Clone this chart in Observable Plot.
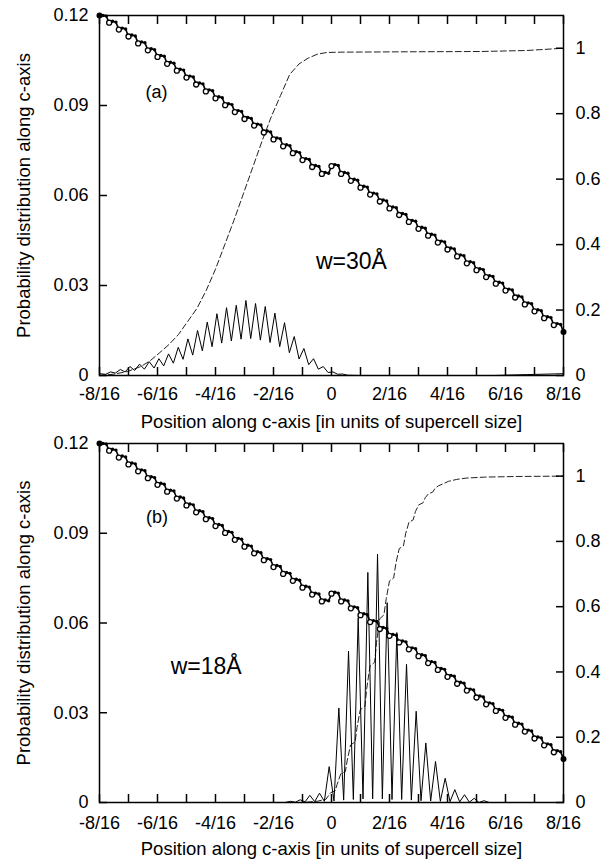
<!DOCTYPE html>
<html><head><meta charset="utf-8">
<script src="https://cdn.jsdelivr.net/npm/d3@7"></script>
<script src="https://cdn.jsdelivr.net/npm/@observablehq/plot@0.6"></script>
<style>
body { margin:0; background:#fff; }
#chart { width:610px; }
#chart svg { display:block; }
</style></head><body><div id="chart"></div>
<script>
// ---- axes ----
const xTicks = [-0.5, -0.4375, -0.375, -0.3125, -0.25, -0.1875, -0.125, -0.0625, 0, 0.0625, 0.125, 0.1875, 0.25, 0.3125, 0.375, 0.4375, 0.5];
const xTickLabels = ["-8/16", "", "-6/16", "", "-4/16", "", "-2/16", "", "0", "", "2/16", "", "4/16", "", "6/16", "", "8/16"];
const leftTicks = [0, 0.03, 0.06, 0.09, 0.12];
const leftTickLabels = ["0", "0.03", "0.06", "0.09", "0.12"];
const rightTicks = [0, 0.2, 0.4, 0.6, 0.8, 1];
const rightTickLabels = ["0", "0.2", "0.4", "0.6", "0.8", "1"];
const rightAxisMax = 1.1;
const xLabel = "Position along c-axis [in units of supercell size]";
const yLabel = "Probability distribution along c-axis";

// ---- layer potential (same in both panels) ----
const layerX = [-0.5, -0.4792, -0.4583, -0.4375, -0.4167, -0.3958, -0.375, -0.3542, -0.3333, -0.3125, -0.2917, -0.2708, -0.25, -0.2292, -0.2083, -0.1875, -0.1667, -0.1458, -0.125, -0.1042, -0.0833, -0.0625, -0.0417, -0.0208, 0, 0.0208, 0.0417, 0.0625, 0.0833, 0.1042, 0.125, 0.1458, 0.1667, 0.1875, 0.2083, 0.2292, 0.25, 0.2708, 0.2917, 0.3125, 0.3333, 0.3542, 0.375, 0.3958, 0.4167, 0.4375, 0.4583, 0.4792, 0.5];
const layerPotential = [0.1200, 0.1176, 0.1153, 0.1130, 0.1107, 0.1084, 0.1062, 0.1039, 0.1016, 0.0993, 0.0970, 0.0947, 0.0924, 0.0901, 0.0878, 0.0855, 0.0833, 0.0810, 0.0787, 0.0764, 0.0741, 0.0718, 0.0695, 0.0672, 0.0698, 0.0672, 0.0649, 0.0626, 0.0603, 0.0580, 0.0557, 0.0535, 0.0512, 0.0489, 0.0466, 0.0443, 0.0420, 0.0397, 0.0374, 0.0351, 0.0328, 0.0306, 0.0283, 0.0260, 0.0237, 0.0214, 0.0191, 0.0168, 0.0145];
const siteOffsets = [0.0073, 0.0146];
const sitePotentialA = [0.1200, 0.1181, 0.1158, 0.1135, 0.1112, 0.1089, 0.1067, 0.1044, 0.1021, 0.0998, 0.0975, 0.0952, 0.0929, 0.0906, 0.0883, 0.0860, 0.0838, 0.0815, 0.0792, 0.0769, 0.0746, 0.0723, 0.0700, 0.0677, 0.0703, 0.0677, 0.0654, 0.0631, 0.0608, 0.0585, 0.0562, 0.0540, 0.0517, 0.0494, 0.0471, 0.0448, 0.0425, 0.0402, 0.0379, 0.0356, 0.0333, 0.0311, 0.0288, 0.0265, 0.0242, 0.0219, 0.0196, 0.0173];
const sitePotentialB = [0.1198, 0.1178, 0.1155, 0.1132, 0.1109, 0.1086, 0.1064, 0.1041, 0.1018, 0.0995, 0.0972, 0.0949, 0.0926, 0.0903, 0.0880, 0.0857, 0.0835, 0.0812, 0.0789, 0.0766, 0.0743, 0.0720, 0.0697, 0.0674, 0.0700, 0.0674, 0.0651, 0.0628, 0.0605, 0.0582, 0.0559, 0.0537, 0.0514, 0.0491, 0.0468, 0.0445, 0.0422, 0.0399, 0.0376, 0.0353, 0.0330, 0.0308, 0.0285, 0.0262, 0.0239, 0.0216, 0.0193, 0.0170];

// ---- panel (a): w = 30 A ----
const densityA = [[-0.5, 0.0006], [-0.4866, 0.0004], [-0.4762, 0.0012], [-0.4658, 0.0008], [-0.4553, 0.0020], [-0.4449, 0.0012], [-0.4345, 0.0030], [-0.4241, 0.0017], [-0.4137, 0.0038], [-0.4033, 0.0021], [-0.3928, 0.0046], [-0.3824, 0.0025], [-0.3720, 0.0056], [-0.3616, 0.0032], [-0.3512, 0.0072], [-0.3408, 0.0041], [-0.3303, 0.0094], [-0.3199, 0.0054], [-0.3095, 0.0122], [-0.2991, 0.0068], [-0.2887, 0.0150], [-0.2783, 0.0082], [-0.2678, 0.0178], [-0.2574, 0.0096], [-0.2470, 0.0206], [-0.2366, 0.0108], [-0.2262, 0.0226], [-0.2158, 0.0115], [-0.2053, 0.0234], [-0.1949, 0.0121], [-0.1845, 0.0250], [-0.1741, 0.0123], [-0.1637, 0.0240], [-0.1533, 0.0118], [-0.1428, 0.0230], [-0.1324, 0.0110], [-0.1220, 0.0208], [-0.1116, 0.0096], [-0.1012, 0.0176], [-0.0908, 0.0076], [-0.0803, 0.0130], [-0.0699, 0.0055], [-0.0595, 0.0090], [-0.0491, 0.0036], [-0.0387, 0.0056], [-0.0283, 0.0021], [-0.0178, 0.0030], [-0.0074, 0.0010], [0.0030, 0.0012], [0.0134, 0.0004], [0.0238, 0.0005], [0.0342, 0.0001], [0.06, 0.0], [0.35, 0.0], [0.42, 0.0003], [0.5, 0.0006]];
const cumulativeA = [[-0.5, 0], [-0.47, 0.004], [-0.44, 0.012], [-0.41, 0.028], [-0.39, 0.046], [-0.37, 0.07], [-0.35, 0.095], [-0.33, 0.125], [-0.31, 0.165], [-0.29, 0.205], [-0.27, 0.26], [-0.25, 0.325], [-0.23, 0.40], [-0.21, 0.475], [-0.19, 0.555], [-0.17, 0.635], [-0.15, 0.715], [-0.13, 0.79], [-0.11, 0.855], [-0.09, 0.92], [-0.07, 0.952], [-0.05, 0.97], [-0.03, 0.982], [-0.01, 0.987], [0.02, 0.988], [0.15, 0.989], [0.32, 0.99], [0.42, 0.993], [0.5, 1.0]];

// ---- panel (b): w = 18 A ----
const densityB = [[-0.5, 0], [-0.10, 0], [-0.0883, 0.0004], [-0.0779, 0.0001], [-0.0675, 0.0009], [-0.0571, 0.0002], [-0.0467, 0.0024], [-0.0363, 0.0003], [-0.0258, 0.0031], [-0.0154, 0.0004], [-0.0050, 0.0120], [0.0054, 0.0005], [0.0158, 0.0316], [0.0262, 0.0008], [0.0367, 0.0506], [0.0471, 0.0010], [0.0575, 0.0618], [0.0679, 0.0012], [0.0783, 0.0769], [0.0887, 0.0012], [0.0992, 0.0830], [0.1096, 0.0012], [0.1200, 0.0668], [0.1304, 0.0010], [0.1408, 0.0568], [0.1512, 0.0010], [0.1617, 0.0462], [0.1721, 0.0008], [0.1825, 0.0305], [0.1929, 0.0006], [0.2033, 0.0199], [0.2137, 0.0005], [0.2242, 0.0137], [0.2346, 0.0004], [0.2450, 0.0081], [0.2554, 0.0003], [0.2658, 0.0043], [0.2762, 0.0002], [0.2867, 0.0026], [0.2971, 0.0001], [0.3075, 0.0014], [0.3179, 0.0], [0.3283, 0.0006], [0.34, 0], [0.5, 0]];
const cumulativeB = [[-0.5, 0], [-0.06, 0], [-0.03, 0.004], [-0.012, 0.010], [-0.002, 0.030], [0.008, 0.036], [0.012, 0.055], [0.020, 0.088], [0.030, 0.095], [0.034, 0.130], [0.041, 0.176], [0.051, 0.186], [0.055, 0.230], [0.062, 0.284], [0.072, 0.295], [0.076, 0.350], [0.083, 0.418], [0.093, 0.430], [0.097, 0.490], [0.104, 0.563], [0.113, 0.575], [0.118, 0.625], [0.125, 0.679], [0.134, 0.688], [0.139, 0.735], [0.146, 0.778], [0.155, 0.786], [0.160, 0.825], [0.167, 0.859], [0.176, 0.866], [0.181, 0.892], [0.188, 0.912], [0.197, 0.918], [0.202, 0.934], [0.209, 0.946], [0.218, 0.951], [0.223, 0.962], [0.230, 0.970], [0.243, 0.978], [0.252, 0.984], [0.27, 0.990], [0.29, 0.994], [0.33, 0.997], [0.40, 0.999], [0.5, 1.0]];

// ---- annotations (data coordinates) ----
const annotationsA = [{x: -0.377, y: 0.0945, text: "(a)", size: 18}, {x: 0.043, y: 0.038, text: "w=30Å", size: 23}];
const annotationsB = [{x: -0.376, y: 0.0955, text: "(b)", size: 18}, {x: -0.27, y: 0.0455, text: "w=18Å", size: 23}];

// build the zig-zag potential path from layers and the two intra-layer sites
const potentialPath = [];
const sitePoints = [];
for (let g = 0; g < layerX.length; g++) {
  potentialPath.push([layerX[g], layerPotential[g]]);
  if (g < sitePotentialA.length) {
    const a = [layerX[g] + siteOffsets[0], sitePotentialA[g]];
    const b = [layerX[g] + siteOffsets[1], sitePotentialB[g]];
    potentialPath.push(a, b);
    sitePoints.push(a, b);
  }
}
const openLayers = layerX.slice(1, -1).map((x, i) => [x, layerPotential[i + 1]]);
const endLayers = [[layerX[0], layerPotential[0]], [layerX[layerX.length - 1], layerPotential[layerPotential.length - 1]]];

const k = 0.12 / rightAxisMax;
const rightScaled = rightTicks.map(d => d * k);
const FONT = "'Liberation Sans', Arial, Helvetica, sans-serif";

function panel({height, marginTop, marginBottom, density, cumulative, annotations, xPad}) {
  return Plot.plot({
    width: 610, height, marginLeft: 99, marginRight: 47, marginTop, marginBottom,
    x: {domain: [-0.5, 0.5], label: null},
    y: {domain: [0, 0.12], label: null},
    style: {fontFamily: FONT, fontSize: "18px", background: "white", color: "black", overflow: "visible"},
    marks: [
      Plot.line(cumulative, {x: d => d[0], y: d => d[1] * k, stroke: "#222", strokeWidth: 1, strokeDasharray: "6,3"}),
      Plot.line(density, {x: d => d[0], y: d => d[1], stroke: "black", strokeWidth: 1}),
      Plot.line(potentialPath, {x: d => d[0], y: d => d[1], stroke: "black", strokeWidth: 1.6}),
      Plot.dot(sitePoints, {x: d => d[0], y: d => d[1], r: 1.7, fill: "black"}),
      Plot.dot(openLayers, {x: d => d[0], y: d => d[1], r: 2.5, fill: "white", stroke: "black", strokeWidth: 1.3}),
      Plot.dot(endLayers, {x: d => d[0], y: d => d[1], r: 3, fill: "black"}),
      Plot.text(annotations, {x: "x", y: "y", text: "text", fontSize: d => d.size, fill: "black"}),
      Plot.axisY(leftTicks, {anchor: "left", tickSize: -8, tickPadding: 19, strokeWidth: 1.5, fontSize: 18, label: null,
        tickFormat: d => leftTickLabels[leftTicks.indexOf(d)]}),
      Plot.axisY(rightScaled, {anchor: "right", tickSize: -8, tickPadding: 20, strokeWidth: 1.5, fontSize: 18, label: null,
        tickFormat: d => rightTickLabels[rightScaled.indexOf(d)]}),
      Plot.axisX(xTicks, {anchor: "bottom", tickSize: -8, tickPadding: xPad, strokeWidth: 1.5, fontSize: 18, label: null,
        tickFormat: d => xTickLabels[xTicks.indexOf(d)]}),
      Plot.axisX(xTicks, {anchor: "top", tickSize: -8, strokeWidth: 1.5, label: null, tickFormat: () => ""}),
      Plot.frame({stroke: "black", strokeWidth: 1.5}),
      Plot.text([xLabel], {frameAnchor: "bottom", lineAnchor: "bottom", dy: 52, fontSize: 18.5, fill: "black"}),
      Plot.text([yLabel], {frameAnchor: "left", textAnchor: "middle", rotate: -90, dx: -75, fontSize: 18.5, fill: "black"})
    ]
  });
}

const chart = document.getElementById("chart");
chart.append(panel({height: 425, marginTop: 15, marginBottom: 50, density: densityA, cumulative: cumulativeA, annotations: annotationsA, xPad: 20}));
chart.append(panel({height: 435, marginTop: 18, marginBottom: 58, density: densityB, cumulative: cumulativeB, annotations: annotationsB, xPad: 22}));
</script>
</body></html>
